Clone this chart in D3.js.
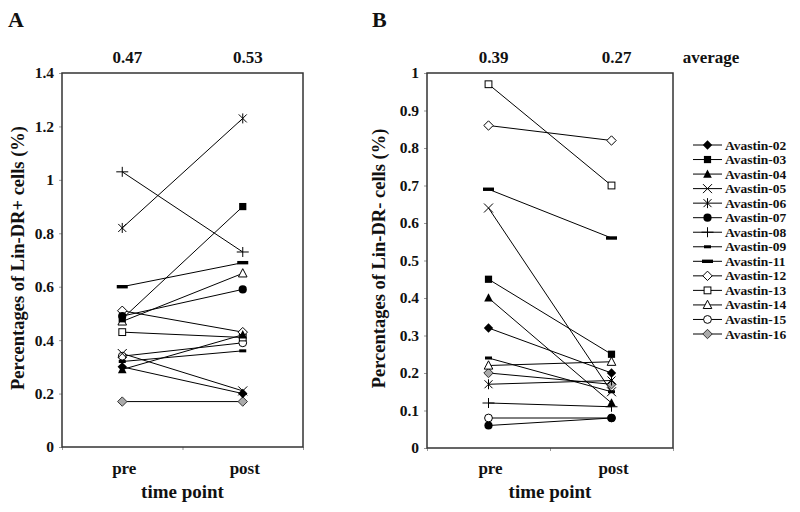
<!DOCTYPE html>
<html>
<head>
<meta charset="utf-8">
<script src="https://cdn.jsdelivr.net/npm/d3@7"></script>
<style>
  html, body { margin: 0; padding: 0; background: #fff; }
  svg { display: block; }
  text { font-family: "Liberation Serif", "Tinos", "Times New Roman", Times, serif; font-weight: bold; fill: #111; }
</style>
</head>
<body>
<svg id="chart" width="800" height="512"></svg>
<script>
// ---------- data ----------
const series = ["Avastin-02","Avastin-03","Avastin-04","Avastin-05","Avastin-06","Avastin-07","Avastin-08",
                "Avastin-09","Avastin-11","Avastin-12","Avastin-13","Avastin-14","Avastin-15","Avastin-16"];
const markers = ["diamond","square","triangle","x","asterisk","circle","plus",
                 "dashShort","dashLong","diamondOpen","squareOpen","triangleOpen","circleOpen","diamondGray"];
const timepoints = ["pre","post"];

// Panel A: Lin-DR+ cells (%)
const posPre  = [0.30,0.48,0.29,0.35,0.82,0.49,1.03,0.32,0.60,0.51,0.43,0.47,0.34,0.17];
const posPost = [0.20,0.90,0.42,0.21,1.23,0.59,0.73,0.36,0.69,0.43,0.41,0.65,0.39,0.17];
const posAverage = ["0.47","0.53"];
const posTicks = [0,0.2,0.4,0.6,0.8,1,1.2,1.4];

// Panel B: Lin-DR- cells (%)
const negPre  = [0.32,0.45,0.40,0.64,0.17,0.06,0.12,0.24,0.69,0.86,0.97,0.22,0.08,0.20];
const negPost = [0.20,0.25,0.12,0.15,0.18,0.08,0.11,0.15,0.56,0.82,0.70,0.23,0.08,0.17];
const negAverage = ["0.39","0.27"];
const negTicks = [0,0.1,0.2,0.3,0.4,0.5,0.6,0.7,0.8,0.9,1];

// ---------- drawing ----------
const svg = d3.select("#chart");
const FONT = "Liberation Serif, Tinos, Times New Roman, serif";

function drawMarker(g, type, x, y) {
  const s = g.append("g").attr("transform", `translate(${x},${y})`);
  const blk = "#000";
  switch (type) {
    case "diamond":
      s.append("path").attr("d","M0,-4.7L4.7,0L0,4.7L-4.7,0Z").attr("fill",blk); break;
    case "diamondOpen":
      s.append("path").attr("d","M0,-4.7L4.7,0L0,4.7L-4.7,0Z").attr("fill","#fff").attr("stroke",blk).attr("stroke-width",1); break;
    case "diamondGray":
      s.append("path").attr("d","M0,-4.7L4.7,0L0,4.7L-4.7,0Z").attr("fill","#aaa").attr("stroke","#333").attr("stroke-width",1); break;
    case "square":
      s.append("rect").attr("x",-3.6).attr("y",-3.6).attr("width",7.2).attr("height",7.2).attr("fill",blk); break;
    case "squareOpen":
      s.append("rect").attr("x",-3.4).attr("y",-3.4).attr("width",6.8).attr("height",6.8).attr("fill","#fff").attr("stroke",blk).attr("stroke-width",1); break;
    case "triangle":
      s.append("path").attr("d","M0,-4.7L4.3,3.6L-4.3,3.6Z").attr("fill",blk); break;
    case "triangleOpen":
      s.append("path").attr("d","M0,-4.7L4.3,3.6L-4.3,3.6Z").attr("fill","#fff").attr("stroke",blk).attr("stroke-width",1); break;
    case "circle":
      s.append("circle").attr("r",4.1).attr("fill",blk); break;
    case "circleOpen":
      s.append("circle").attr("r",3.9).attr("fill","#fff").attr("stroke",blk).attr("stroke-width",1); break;
    case "x":
      s.append("path").attr("d","M-4.5,-4.5L4.5,4.5M-4.5,4.5L4.5,-4.5").attr("stroke",blk).attr("stroke-width",1); break;
    case "asterisk":
      s.append("path").attr("d","M-4,-4L4,4M-4,4L4,-4M0,-5L0,5").attr("stroke",blk).attr("stroke-width",1); break;
    case "plus":
      s.append("path").attr("d","M-6,0L6,0M0,-5L0,5").attr("stroke",blk).attr("stroke-width",1); break;
    case "dashShort":
      s.append("rect").attr("x",-3.5).attr("y",-1.5).attr("width",7).attr("height",3).attr("fill",blk); break;
    case "dashLong":
      s.append("rect").attr("x",-5.5).attr("y",-1.7).attr("width",11).attr("height",3.4).attr("fill",blk); break;
  }
}

function panel(cfg) {
  const { left, right, top, bottom, maxY, ticks, pre, post, avg, yTitle, titleOffset, letter, letterX } = cfg;
  const g = svg.append("g");
  const x = d3.scalePoint().domain(timepoints).range([left, right]).padding(0.5);
  const y = d3.scaleLinear().domain([0, maxY]).range([bottom, top]);

  // panel letter
  g.append("text").attr("x", letterX).attr("y", 27).attr("font-size", 22).text(letter);

  // y ticks
  const yAxis = d3.axisLeft(y).tickValues(ticks).tickSize(3).tickPadding(5)
    .tickFormat(d => d3.format("")(+d.toFixed(1)));
  const ya = g.append("g").attr("transform", `translate(${left},0)`).call(yAxis);
  ya.attr("font-family", FONT);
  ya.select(".domain").remove();
  ya.selectAll(".tick line").attr("stroke", "#999");
  ya.selectAll(".tick text").attr("font-size", 15.5).attr("font-weight", "bold").attr("fill", "#111");

  // x boundary ticks
  const xb = d3.scaleLinear().domain([0, 2]).range([left, right]);
  const xa = g.append("g").attr("transform", `translate(0,${bottom})`)
    .call(d3.axisBottom(xb).tickValues([0,1,2]).tickSize(3).tickFormat(""));
  xa.select(".domain").remove();
  xa.selectAll(".tick line").attr("stroke", "#999");

  // frame
  g.append("rect").attr("x", left).attr("y", top).attr("width", right - left).attr("height", bottom - top)
    .attr("fill", "none").attr("stroke", "#333").attr("stroke-width", 1.5);

  // category labels
  timepoints.forEach(t => {
    g.append("text").attr("x", x(t) + 2).attr("y", 474).attr("text-anchor", "middle").attr("font-size", 17).text(t);
  });
  g.append("text").attr("x", (left + right) / 2).attr("y", 498).attr("text-anchor", "middle")
    .attr("font-size", 19).text("time point");

  // averages
  timepoints.forEach((t, i) => {
    g.append("text").attr("x", x(t) + 5).attr("y", 63).attr("text-anchor", "middle").attr("font-size", 17).text(avg[i]);
  });

  // y title
  g.append("text").attr("transform", `translate(${left - titleOffset},${(top + bottom) / 2 - 2}) rotate(-90)`)
    .attr("text-anchor", "middle").attr("font-size", 18.5).text(yTitle);

  // lines
  series.forEach((s, i) => {
    g.append("line").attr("x1", x("pre")).attr("y1", y(pre[i])).attr("x2", x("post")).attr("y2", y(post[i]))
      .attr("stroke", "#000").attr("stroke-width", 1);
  });
  // markers (draw in reverse so earlier series sit on top)
  for (let i = series.length - 1; i >= 0; i--) {
    drawMarker(g, markers[i], x("pre"), y(pre[i]));
    drawMarker(g, markers[i], x("post"), y(post[i]));
  }
}

panel({ left: 62, right: 303, top: 73, bottom: 447, maxY: 1.4, ticks: posTicks,
        pre: posPre, post: posPost, avg: posAverage, titleOffset: 38,
        yTitle: "Percentages of Lin-DR+ cells (%)", letter: "A", letterX: 8 });
panel({ left: 427, right: 673, top: 73, bottom: 448, maxY: 1, ticks: negTicks,
        pre: negPre, post: negPost, avg: negAverage, titleOffset: 42,
        yTitle: "Percentages of Lin-DR- cells (%)", letter: "B", letterX: 372 });

svg.append("text").attr("x", 711).attr("y", 63).attr("text-anchor", "middle").attr("font-size", 17).text("average");

// legend
const legendY = d3.scalePoint().domain(series).range([145, 334]);
const lg = svg.append("g");
series.forEach((s, i) => {
  const yy = legendY(s);
  lg.append("line").attr("x1", 693).attr("x2", 722).attr("y1", yy).attr("y2", yy).attr("stroke", "#000").attr("stroke-width", 1);
  drawMarker(lg, markers[i], 707.5, yy);
  lg.append("text").attr("x", 725).attr("y", yy + 4.5).attr("font-size", 13.5).text(s);
});
</script>
</body>
</html>
